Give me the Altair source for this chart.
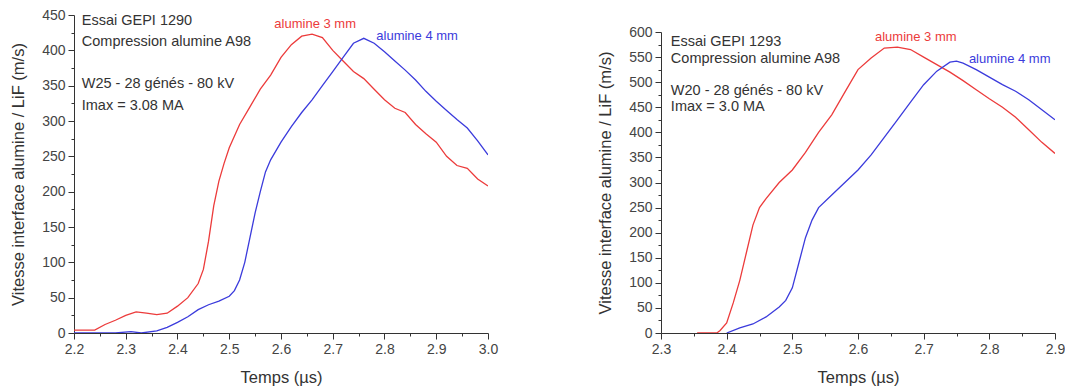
import altair as alt
import pandas as pd

# ---------------- data: panel 1 (Essai GEPI 1290) ----------------
p1_red_t = [2.20, 2.24, 2.26, 2.28, 2.30, 2.32, 2.34, 2.36, 2.38, 2.40, 2.42, 2.44, 2.45, 2.46, 2.47,
            2.48, 2.49, 2.50, 2.52, 2.54, 2.56, 2.58, 2.60, 2.62, 2.64, 2.66, 2.68, 2.70, 2.72, 2.74,
            2.76, 2.78, 2.80, 2.82, 2.84, 2.86, 2.88, 2.90, 2.92, 2.94, 2.96, 2.98, 3.00]
p1_red_v = [4, 4, 12, 18, 25, 30, 28, 26, 28, 38, 50, 70, 90, 130, 180,
            215, 240, 262, 295, 320, 345, 365, 390, 408, 420, 423, 418, 400, 385, 370,
            360, 345, 330, 318, 312, 295, 282, 270, 250, 237, 233, 218, 208]
p1_blue_t = [2.20, 2.28, 2.31, 2.33, 2.36, 2.38, 2.40, 2.42, 2.44, 2.46, 2.48, 2.50, 2.51, 2.52, 2.53,
             2.54, 2.55, 2.56, 2.57, 2.58, 2.60, 2.62, 2.64, 2.66, 2.68, 2.70, 2.72, 2.74, 2.76, 2.78,
             2.80, 2.82, 2.84, 2.86, 2.88, 2.90, 2.92, 2.94, 2.96, 2.98, 3.00]
p1_blue_v = [0, 0, 2, 0, 3, 8, 15, 23, 33, 40, 45, 52, 60, 75, 100,
             135, 170, 200, 228, 245, 270, 292, 312, 330, 350, 370, 390, 410, 417, 410,
             398, 385, 372, 358, 342, 328, 315, 302, 290, 272, 252]

# ---------------- data: panel 2 (Essai GEPI 1293) ----------------
p2_red_t = [2.355, 2.385, 2.39, 2.40, 2.41, 2.42, 2.43, 2.44, 2.45, 2.46, 2.48, 2.50, 2.52, 2.54, 2.56,
            2.58, 2.60, 2.62, 2.64, 2.66, 2.68, 2.70, 2.72, 2.74, 2.76, 2.78, 2.80, 2.82, 2.84, 2.86,
            2.88, 2.90]
p2_red_v = [0, 0, 5, 20, 60, 105, 160, 215, 250, 268, 300, 325, 360, 400, 435,
            480, 525, 548, 568, 570, 565, 550, 535, 520, 503, 485, 467, 450, 430, 405,
            380, 358]
p2_blue_t = [2.40, 2.42, 2.44, 2.46, 2.48, 2.49, 2.50, 2.51, 2.52, 2.53, 2.54, 2.56, 2.58, 2.60, 2.62,
             2.64, 2.66, 2.68, 2.70, 2.72, 2.74, 2.75, 2.76, 2.78, 2.80, 2.82, 2.84, 2.86, 2.88, 2.90]
p2_blue_v = [0, 10, 18, 32, 52, 65, 90, 140, 190, 225, 250, 275, 300, 325, 355,
             390, 425, 460, 495, 522, 540, 542, 538, 525, 510, 495, 482, 465, 445, 425]

series_names = ["alumine 3 mm", "alumine 4 mm"]
series_colors = ["#ec3b3b", "#3b3bdc"]

# annotation texts
p1_notes = ["Essai GEPI 1290", "Compression alumine A98", "W25 - 28 génés - 80 kV", "Imax = 3.08 MA"]
p1_notes_x = [2.215, 2.215, 2.215, 2.215]
p1_notes_y = [441, 412, 352, 321]
p1_lab_x = [2.666, 2.863]
p1_lab_y = [437, 420]

p2_notes = ["Essai GEPI 1293", "Compression alumine A98", "W20 - 28 génés - 80 kV", "Imax = 3.0 MA"]
p2_notes_x = [2.315, 2.315, 2.315, 2.315]
p2_notes_y = [580, 546, 482, 450]
p2_lab_x = [2.688, 2.831]
p2_lab_y = [590, 546]

YTITLE = "Vitesse interface alumine / LiF (m/s)"
XTITLE = "Temps (µs)"
FONT = "Liberation Sans"


def frange(a, b, s):
    n = int(round((b - a) / s))
    return [round(a + i * s, 4) for i in range(n + 1)]


def panel(red_t, red_v, blue_t, blue_v, xdom, ymax, w, h, notes, nx, ny, lx, ly):
    df = pd.concat([
        pd.DataFrame({"t": red_t, "v": red_v, "s": series_names[0]}),
        pd.DataFrame({"t": blue_t, "v": blue_v, "s": series_names[1]}),
    ])
    xs = alt.Scale(domain=xdom, nice=False, zero=False)
    ys = alt.Scale(domain=[0, ymax], nice=False)
    x_major = "abs(round(datum.value*10) - datum.value*10) < 0.01"
    y_major = "datum.value % 50 === 0"
    x_enc = alt.X("t:Q", scale=xs, title=XTITLE,
                  axis=alt.Axis(values=frange(xdom[0], xdom[1], 0.05), format=".1f",
                                tickSize={"condition": {"test": x_major, "value": 6}, "value": 3},
                                labelExpr=f"({x_major}) ? datum.label : ''",
                                labelOverlap=False, labelFlush=False, grid=False,
                                titlePadding=13))
    y_enc = alt.Y("v:Q", scale=ys, title=YTITLE,
                  axis=alt.Axis(values=frange(0, ymax, 25),
                                tickSize={"condition": {"test": y_major, "value": 6}, "value": 3},
                                labelExpr=f"({y_major}) ? datum.label : ''",
                                labelOverlap=False, grid=False, titlePadding=15))
    col = alt.Color("s:N", scale=alt.Scale(domain=series_names, range=series_colors), legend=None)

    lines = alt.Chart(df).mark_line(strokeWidth=1.3, clip=True).encode(
        x=x_enc, y=y_enc, color=col, detail="s:N")

    ndf = pd.DataFrame({"t": nx, "v": ny, "txt": notes})
    notes_layer = alt.Chart(ndf).mark_text(align="left", baseline="middle", fontSize=14.5,
                                           font=FONT, color="#333333").encode(
        x=x_enc, y=y_enc, text="txt:N")
    ldf = pd.DataFrame({"t": lx, "v": ly, "s": series_names})
    lab_layer = alt.Chart(ldf).mark_text(align="center", baseline="middle", fontSize=13,
                                         font=FONT).encode(
        x=x_enc, y=y_enc, text="s:N", color=col)
    return alt.layer(lines, notes_layer, lab_layer).properties(width=w, height=h)


left = panel(p1_red_t, p1_red_v, p1_blue_t, p1_blue_v, [2.2, 3.0], 450, 414, 318,
             p1_notes, p1_notes_x, p1_notes_y, p1_lab_x, p1_lab_y)
right = panel(p2_red_t, p2_red_v, p2_blue_t, p2_blue_v, [2.3, 2.9], 600, 394, 301,
              p2_notes, p2_notes_x, p2_notes_y, p2_lab_x, p2_lab_y)

# empty spacer above the right panel so that its plot starts lower, as in the reference
spacer = alt.Chart(pd.DataFrame({"a": [0]})).mark_point(opacity=0).encode(
    x=alt.X("a:Q", axis=None), y=alt.Y("a:Q", axis=None)).properties(width=394, height=1)

chart = alt.hconcat(left, alt.vconcat(spacer, right, spacing=6), spacing=99).properties(
    padding={"left": 2, "top": 0, "right": 0, "bottom": 0},
    background="white",
).configure_view(stroke=None).configure_axis(
    domainColor="#333333", tickColor="#333333", labelColor="#444444", titleColor="#333333",
    labelFont=FONT, titleFont=FONT, labelFontSize=14, titleFontSize=16.5, titleFontWeight="normal",
    labelPadding=3,
)

chart.save("out.html", embed_options={"renderer": "svg", "actions": False})
